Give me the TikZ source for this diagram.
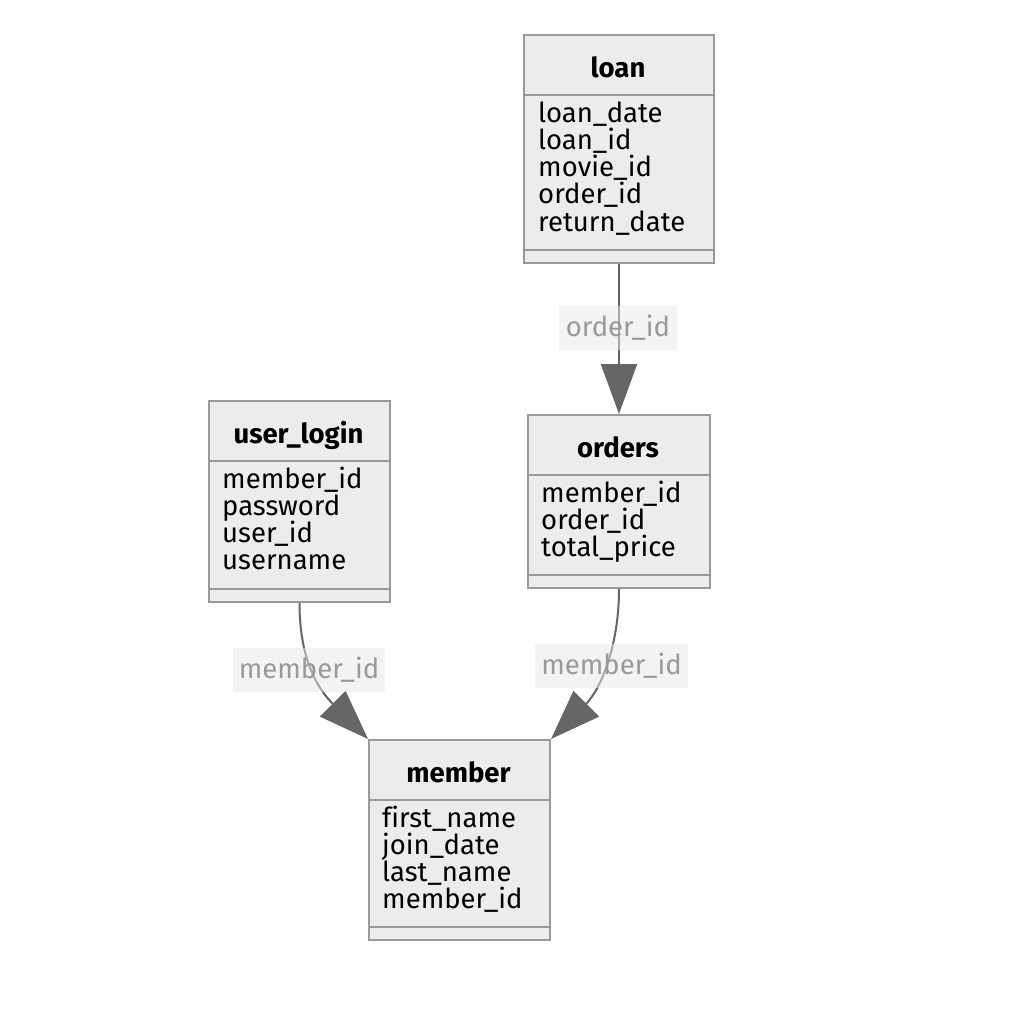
\documentclass[tikz,border=0pt]{standalone}
\usepackage{fontspec}
\setmainfont{Fira Sans}[Ligatures={NoCommon}]
\usetikzlibrary{arrows.meta,calc}
\definecolor{boxfill}{HTML}{ECECEC}
\definecolor{boxline}{HTML}{999999}
\definecolor{edgeline}{HTML}{666666}
\definecolor{lblfill}{HTML}{E9E9E9}
\definecolor{lbltext}{HTML}{999999}
\tikzset{
  entity/.style={draw=boxline, fill=boxfill, line width=2pt, inner sep=0pt, anchor=north west},
  divider/.style={draw=boxline, line width=2pt},
  title/.style={font=\fontsize{27.5}{31}\selectfont\bfseries, text=black, anchor=base, inner sep=0pt},
  attr/.style={font=\fontsize{27.5}{30}\selectfont, text=black, anchor=base west, inner sep=0pt},
  rel/.style={draw=edgeline, line width=2pt, -{Triangle[length=50pt,width=36pt]}},
  lbl/.style={fill=lblfill, fill opacity=0.5, text opacity=1, text=lbltext,
    font=\fontsize{27.5}{30}\selectfont, inner sep=0pt, minimum height=44pt},
}
\begin{document}
\begin{tikzpicture}[x=1pt,y=-1pt]
\useasboundingbox[fill=white] (0,0) rectangle (1014,1012);

% entity boxes
\node[entity, minimum width=190pt, minimum height=228pt] (loan) at (523,34) {};
\node[entity, minimum width=182pt, minimum height=173pt] (orders) at (527,414) {};
\node[entity, minimum width=181pt, minimum height=201pt] (userlogin) at (208,400) {};
\node[entity, minimum width=181pt, minimum height=200pt] (member) at (368,739) {};

% header and footer dividers
\foreach \e/\hb/\fb in {loan/61/216, orders/61/161, userlogin/61/189, member/61/188}{
  \draw[divider] ($(\e.north west)+(0,\hb)$) -- ($(\e.north east)+(0,\hb)$);
  \draw[divider] ($(\e.north west)+(0,\fb)$) -- ($(\e.north east)+(0,\fb)$);
}

% titles
\node[title] (loan-t) at (618,77) {loan};
\node[title] (orders-t) at (618,457) {orders};
\node[title] (userlogin-t) at (298.5,443) {user\_login};
\node[title] (member-t) at (458.5,782) {member};

% attributes
\node[attr] (loan-a1) at (538,122) {loan\_date};
\node[attr] (loan-a2) at (538,149.3) {loan\_id};
\node[attr] (loan-a3) at (538,176.6) {movie\_id};
\node[attr] (loan-a4) at (538,203.9) {order\_id};
\node[attr] (loan-a5) at (538,231.2) {return\_date};

\node[attr] (orders-a1) at (541,502) {member\_id};
\node[attr] (orders-a2) at (541,529.3) {order\_id};
\node[attr] (orders-a3) at (541,556.6) {total\_price};

\node[attr] (userlogin-a1) at (222,488) {member\_id};
\node[attr] (userlogin-a2) at (222,515.3) {password};
\node[attr] (userlogin-a3) at (222,542.6) {user\_id};
\node[attr] (userlogin-a4) at (222,569.9) {username};

\node[attr] (member-a1) at (382,827) {first\_name};
\node[attr] (member-a2) at (382,854.3) {join\_date};
\node[attr] (member-a3) at (382,881.6) {last\_name};
\node[attr] (member-a4) at (382,908.9) {member\_id};

% relationships
\draw[rel] (loan.south) -- (orders.north);
\draw[rel] (userlogin.south) .. controls ++(0,60) and ($(member.north west)+(-48,-48)$) .. (member.north west);
\draw[rel] (orders.south) .. controls ++(0,60) and ($(member.north east)+(48,-48)$) .. (member.north east);

% relationship labels
\node[lbl, minimum width=118pt] (lbl-order) at (618,328) {order\_id};
\node[lbl, minimum width=152pt] (lbl-ul) at (309,670) {member\_id};
\node[lbl, minimum width=153pt] (lbl-or) at (611.5,665.5) {member\_id};
\end{tikzpicture}
\end{document}
